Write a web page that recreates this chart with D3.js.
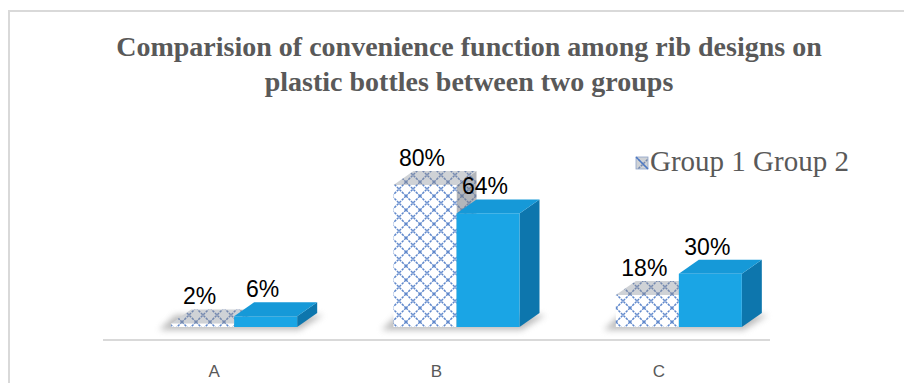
<!DOCTYPE html>
<html>
<head>
<meta charset="utf-8">
<script src="https://cdn.jsdelivr.net/npm/d3@7"></script>
<style>
  body { margin: 0; background: #fff; }
  svg { display: block; }
</style>
</head>
<body>
<div id="chart"></div>
<script>
// Daten
const categories = ["A", "B", "C"];
const seriesNames = ["Group 1", "Group 2"];
const group1 = [2, 80, 18];
const group2 = [6, 64, 30];
const titleLines = ["Comparision of convenience function among rib designs on",
                    "plastic bottles between two groups"];

const W = 904, H = 383;
const depthX = 20, depthY = -14;   // 3D Versatz
const barW = 63;

const svg = d3.select("#chart").append("svg")
    .attr("width", W)
    .attr("height", H);

const defs = svg.append("defs");

// Gitter-Muster fuer Group 1
function lattice(id, bg, stroke) {
    const p = defs.append("pattern")
        .attr("id", id)
        .attr("patternUnits", "userSpaceOnUse")
        .attr("width", 14).attr("height", 14);
    p.append("rect").attr("width", 14).attr("height", 14).attr("fill", bg);
    p.append("path")
        .attr("d", "M0,0 L14,14 M14,0 L0,14")
        .attr("stroke", stroke)
        .attr("stroke-width", 1.5)
        .attr("stroke-dasharray", "2.5,1")
        .attr("fill", "none");
}
lattice("hatchFront", "#ffffff", "#5f88cc");
lattice("hatchTop", "#cfd2d6", "#7489b0");
lattice("hatchSide", "#b3b6bb", "#6f82a4");

const blur = defs.append("filter").attr("id", "soft")
    .attr("x", "-20%").attr("y", "-50%").attr("width", "140%").attr("height", "200%");
blur.append("feGaussianBlur").attr("stdDeviation", 3);

// Rahmen
svg.append("path")
    .attr("d", `M9,${H + 5} L9,11 L${W + 5},11`)
    .attr("fill", "none")
    .attr("stroke", "#d9d9d9")
    .attr("stroke-width", 2);

// Titel
svg.append("g").selectAll("text")
    .data(titleLines)
    .enter().append("text")
    .attr("x", 469)
    .attr("y", (d, i) => 56 + i * 35)
    .attr("text-anchor", "middle")
    .attr("font-family", "'Liberation Serif', 'Times New Roman', serif")
    .attr("font-weight", "bold")
    .attr("font-size", 28)
    .attr("fill", "#595959")
    .text(d => d);

// Skalen
const x = d3.scaleBand().domain(categories).range([103, 770]);
const y = d3.scaleLinear().domain([0, 80]).range([327, 185]);

// Achsenlinie
svg.append("line")
    .attr("x1", x.range()[0]).attr("x2", x.range()[1])
    .attr("y1", 340).attr("y2", 340)
    .attr("stroke", "#d9d9d9")
    .attr("stroke-width", 2);

// Achsenbeschriftung
svg.append("g").selectAll("text")
    .data(categories)
    .enter().append("text")
    .attr("x", d => x(d) + x.bandwidth() / 2)
    .attr("y", 377)
    .attr("text-anchor", "middle")
    .attr("font-family", "'Liberation Sans', Arial, sans-serif")
    .attr("font-size", 17)
    .attr("fill", "#595959")
    .text(d => d);

const bars = [];
categories.forEach((c, i) => {
    const cx = x(c) + x.bandwidth() / 2;
    bars.push({cat: c, s: 0, v: group1[i], x0: cx - 43});
    bars.push({cat: c, s: 1, v: group2[i], x0: cx - 43 + barW});
});

const style = [
    {front: "url(#hatchFront)", top: "url(#hatchTop)", side: "url(#hatchSide)"},
    {front: "#1aa5e5", top: "#1699d8", side: "#0d76ad"}
];

// Schatten
const shadow = svg.append("g").attr("class", "shadow");
categories.forEach(c => {
    const cx = x(c) + x.bandwidth() / 2;
    const l = cx - 43, r = cx - 43 + 2 * barW;
    const b = y(0);
    shadow.append("path")
        .attr("d", `M${l - 12},${b + 3} L${r + 2},${b + 3} L${r + depthX + 6},${b + depthY + 2} L${l + depthX - 16},${b + depthY + 2} Z`)
        .attr("fill", "#8f8f8f")
        .attr("opacity", 0.6)
        .attr("filter", "url(#soft)");
});

const barG = svg.append("g").attr("class", "bars");
bars.forEach(d => {
    const g = barG.append("g");
    const x0 = d.x0, x1 = d.x0 + barW, yt = y(d.v), yb = y(0);
    const st = style[d.s];
    // Seite
    g.append("path")
        .attr("d", `M${x1},${yt} L${x1 + depthX},${yt + depthY} L${x1 + depthX},${yb + depthY} L${x1},${yb} Z`)
        .attr("fill", st.side);
    // Oben
    g.append("path")
        .attr("d", `M${x0},${yt} L${x0 + depthX},${yt + depthY} L${x1 + depthX},${yt + depthY} L${x1},${yt} Z`)
        .attr("fill", st.top);
    // Vorne
    g.append("rect")
        .attr("x", x0).attr("y", yt)
        .attr("width", barW).attr("height", yb - yt)
        .attr("fill", st.front);
});

// Werte
svg.append("g").selectAll("text")
    .data(bars)
    .enter().append("text")
    .attr("x", d => d.x0 + barW / 2 - 3)
    .attr("y", d => y(d.v) + depthY - 5)
    .attr("text-anchor", "middle")
    .attr("font-family", "'Liberation Sans', Arial, sans-serif")
    .attr("font-size", 23)
    .attr("fill", "#000")
    .text(d => d.v + "%");

// Legende
const leg = svg.append("g").attr("transform", "translate(636,157)");
leg.append("rect")
    .attr("width", 12).attr("height", 12)
    .attr("fill", "url(#hatchTop)")
    .attr("stroke", "#8da2c8").attr("stroke-width", 0.8);
leg.append("line")
    .attr("x1", 0).attr("y1", 0).attr("x2", 12).attr("y2", 12)
    .attr("stroke", "#4a78c8").attr("stroke-width", 1.2);
leg.append("text")
    .attr("x", 14)
    .attr("y", 14)
    .attr("font-family", "'Liberation Serif', 'Times New Roman', serif")
    .attr("font-size", 29)
    .attr("fill", "#595959")
    .text(seriesNames.join(" "));
</script>
</body>
</html>
